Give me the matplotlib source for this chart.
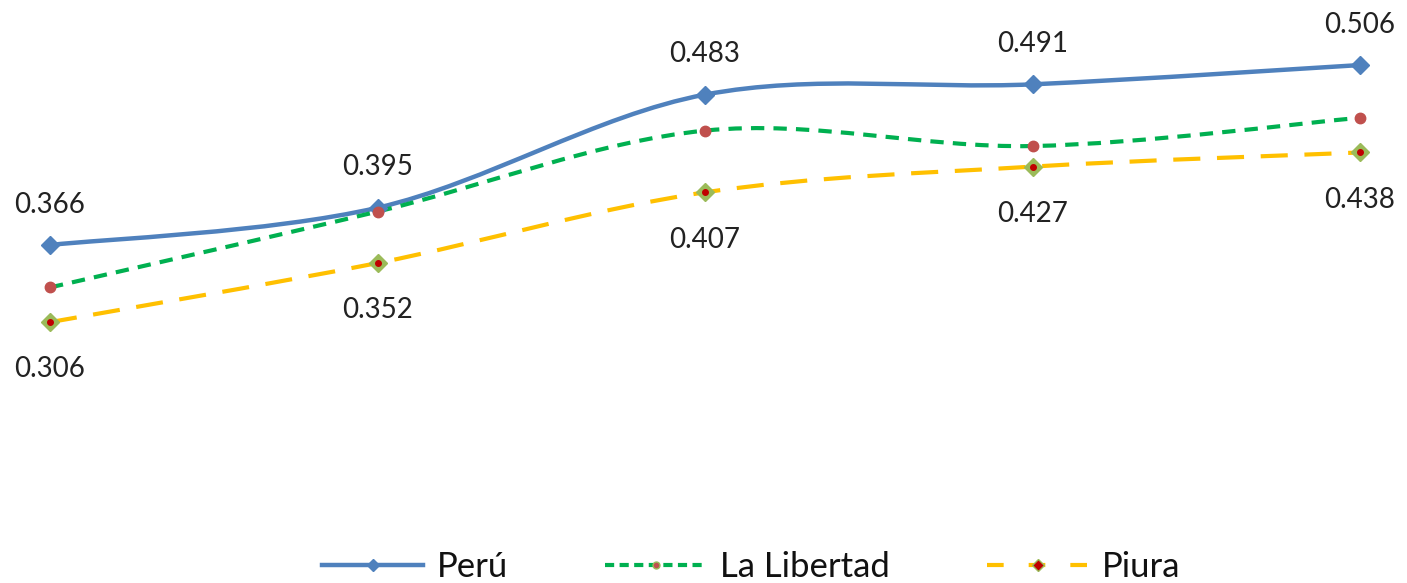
import matplotlib.pyplot as plt
import numpy as np
from matplotlib.path import Path
from matplotlib.patches import PathPatch
from matplotlib.lines import Line2D

plt.rcParams['font.family'] = ['Lato', 'DejaVu Sans']

# data
periods = [0, 1, 2, 3, 4]
peru = [0.366, 0.395, 0.483, 0.491, 0.506]
la_libertad = [0.333, 0.392, 0.455, 0.443, 0.465]
piura = [0.306, 0.352, 0.407, 0.427, 0.438]

BLUE = '#4F81BD'
GREEN = '#00B050'
YELLOW = '#FFC000'
RED = '#C0504D'
OLIVE = '#9BBB59'


def smooth_path(x, y):
    # excel-like smoothing: cubic bezier, catmull-rom style control points
    pts = np.column_stack([x, y]).astype(float)
    n = len(pts)
    verts = [pts[0]]
    codes = [Path.MOVETO]
    for i in range(n - 1):
        p0 = pts[i - 1] if i > 0 else pts[i]
        p1 = pts[i]
        p2 = pts[i + 1]
        p3 = pts[i + 2] if i + 2 < n else pts[i + 1]
        c1 = p1 + (p2 - p0) / 6
        c2 = p2 - (p3 - p1) / 6
        verts += [c1, c2, p2]
        codes += [Path.CURVE4] * 3
    return Path(verts, codes)


fig = plt.figure(figsize=(14.07, 5.83), dpi=100)
ax = fig.add_axes([0, 0, 1, 1])
ax.set_xlim(-0.1527, 4.1435)
ax.set_ylim(0.1031, 0.5566)
ax.axis('off')

series = [
    (peru, BLUE, (0, ()), 3.2),
    (la_libertad, GREEN, (0, (3.2, 2.2)), 3.0),
    (piura, YELLOW, (0, (6.5, 4.0)), 3.0),
]
for vals, col, ls, lw in series:
    patch = PathPatch(smooth_path(periods, vals), facecolor='none', edgecolor=col,
                      lw=lw, linestyle=ls, capstyle='butt', zorder=2)
    ax.add_patch(patch)

ax.plot(periods, peru, linestyle='none', marker='D', ms=9, color=BLUE, zorder=3)
ax.plot(periods, la_libertad, linestyle='none', marker='o', ms=7.5, color=RED, zorder=3)
ax.plot(periods, piura, linestyle='none', marker='D', ms=9, color=OLIVE, zorder=3)
ax.plot(periods, piura, linestyle='none', marker='o', ms=4, color='#C00000', zorder=4)

for x, v in zip(periods, peru):
    ax.annotate(f'{v:.3f}', (x, v), xytext=(0, 29), textcoords='offset points',
                ha='center', va='center', fontsize=20, color='#222222')
for x, v in zip(periods, piura):
    ax.annotate(f'{v:.3f}', (x, v), xytext=(0, -34), textcoords='offset points',
                ha='center', va='center', fontsize=20, color='#222222')

handles = [
    Line2D([], [], color=BLUE, lw=3.2, marker='D', ms=6),
    Line2D([], [], color=GREEN, lw=3.0, linestyle=(0, (2.2, 1.3)), marker='o', ms=5,
           markerfacecolor=RED, markeredgecolor=OLIVE),
    Line2D([], [], color=YELLOW, lw=3.0, linestyle=(0, (4, 6)), marker='D', ms=6,
           markerfacecolor='#C00000', markeredgecolor=OLIVE),
]
leg = fig.legend(handles, ['Perú', 'La Libertad', 'Piura'], loc='center', ncol=3,
                 frameon=False, fontsize=25, handlelength=2.9, columnspacing=2.8,
                 bbox_to_anchor=(0.534, 0.027), handletextpad=0.4, numpoints=1)
for t in leg.get_texts():
    t.set_color('#111111')

fig.savefig('out.png', dpi=100)
